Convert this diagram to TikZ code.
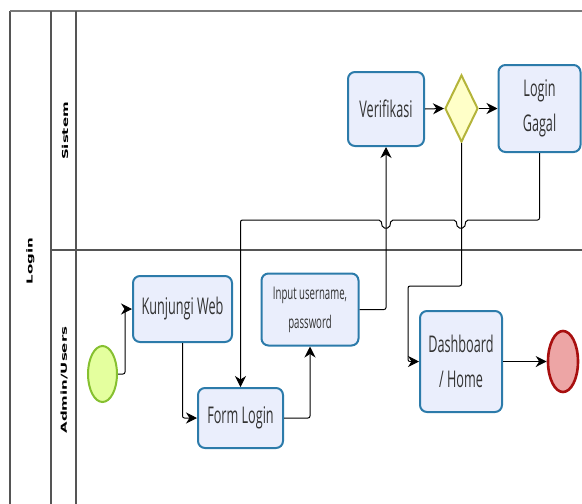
\documentclass[tikz,border=0pt]{standalone}
\usepackage{graphicx}
\usepackage{fontspec}
\newfontfamily\boxfont[FakeStretch=0.55]{Open Sans}
\newfontfamily\lanefont{DejaVu Sans}
\usetikzlibrary{arrows.meta, shapes.geometric}

\definecolor{taskfill}{HTML}{EAEEFC}
\definecolor{taskline}{HTML}{2C7BAA}
\definecolor{gwfill}{HTML}{FFFFC8}
\definecolor{gwline}{HTML}{B4B43A}
\definecolor{startfill}{HTML}{E4FF9E}
\definecolor{startline}{HTML}{86C030}
\definecolor{endfill}{HTML}{EDA5A5}
\definecolor{endline}{HTML}{A80F0F}
\definecolor{poolline}{HTML}{555555}
\definecolor{pooltop}{HTML}{7A7A7A}
\definecolor{textcol}{HTML}{333333}

\tikzset{
  task/.style={draw=taskline, fill=taskfill, line width=2pt, rounded corners=7pt,
    inner sep=0pt, align=center, text=textcol,
    font=\boxfont\fontsize{23}{35}\selectfont},
  gateway/.style={diamond, draw=gwline, fill=gwfill, line width=2pt, inner sep=0pt},
  startev/.style={ellipse, draw=startline, fill=startfill, line width=2pt, inner sep=0pt},
  endev/.style={ellipse, draw=endline, fill=endfill, line width=2.6pt, inner sep=0pt},
  flow/.style={draw=black, line width=1pt, rounded corners=2pt,
    -{Stealth[length=11pt, width=11pt, inset=3.5pt]}},
  laneline/.style={draw=poolline, line width=1.2pt},
  lanelabel/.style={rotate=90, inner sep=0pt, text=black},
}

\newcommand{\lanetext}[1]{\scalebox{1}[0.55]{\lanefont\bfseries\fontsize{15}{15}\selectfont #1}}

\begin{document}
\begin{tikzpicture}[x=1pt, y=-1pt]
  \useasboundingbox (0,0) rectangle (582,504);

  % pool and lanes
  \draw[laneline] (10,504) -- (10,11);
  \draw[draw=pooltop, line width=2pt] (10,11) -- (582,11);
  \draw[laneline] (51,11) -- (51,504);
  \draw[laneline] (76,11) -- (76,504);
  \draw[laneline] (51,250) -- (582,250);

  \node[lanelabel] (poolname) at (30.5,261) {\lanetext{Login}};
  \node[lanelabel] (lanesys) at (65,131) {\lanetext{Sistem}};
  \node[lanelabel] (laneusr) at (64,380) {\lanetext{Admin/Users}};

  % events
  \node[startev, minimum width=29pt, minimum height=56pt] (start) at (102.5,374) {};
  \node[endev, minimum width=30pt, minimum height=61pt] (end) at (563,361.5) {};

  % tasks
  \node[task, minimum width=99pt, minimum height=66pt] (kw) at (182.5,309) {Kunjungi Web};
  \node[task, minimum width=85pt, minimum height=60pt] (fl) at (240.5,418) {Form Login};
  \node[task, minimum width=97pt, minimum height=72pt,
        font=\boxfont\fontsize{17.5}{29}\selectfont] (inp) at (310,309.5) {Input username,\\password};
  \node[task, minimum width=76pt, minimum height=74pt] (ver) at (386,109) {Verifikasi};
  \node[task, minimum width=82pt, minimum height=87pt] (lg) at (539.5,108.5) {Login\\Gagal};
  \node[task, minimum width=82pt, minimum height=101pt] (dash) at (461,361.5) {Dashboard\\/ Home};

  % gateway
  \node[gateway, minimum width=33pt, minimum height=67pt] (gw) at (461.5,108.5) {};

  % sequence flows
  \draw[flow] (start.east) -- ++(7,0) |- (kw.west);
  \draw[flow] (kw.south) |- (fl.west);
  \draw[flow] (fl.east) -| (inp.south);
  \draw[flow] (inp.east) -| (ver.south);
  \draw[flow] (ver.east) -- (gw.west);
  \draw[flow] (gw.east) -- (gw.east -| lg.west);
  \coordinate (turn) at (408,286);
  \draw[flow] (gw.south) |- (turn) |- (dash.west);
  \draw[flow] (dash.east) -- (end.west);

  % flow back to the form, hopping over the two vertical lines
  \draw[flow] (lg.south) |- (466,220) -- ++(-1.5,8) -- ++(-7,0) -- ++(-1.5,-8)
    -- (391,220) -- ++(-1.5,8) -- ++(-7,0) -- ++(-1.5,-8)
    -- (fl.north |- 0,220) -- (fl.north);
\end{tikzpicture}
\end{document}
